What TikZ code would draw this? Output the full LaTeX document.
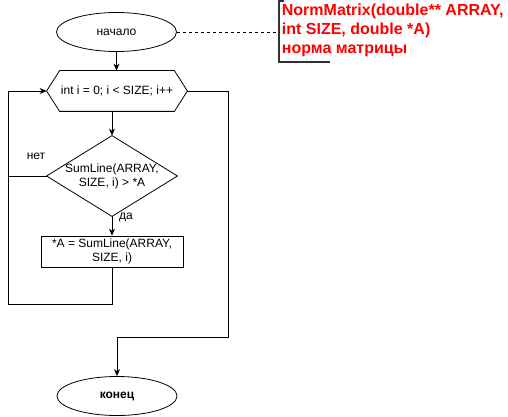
\documentclass[tikz,border=0pt]{standalone}
\usepackage{fontspec}
\setmainfont{Liberation Sans}
\usetikzlibrary{shapes.geometric,arrows.meta,calc}
\begin{document}
\begin{tikzpicture}[x=1pt,y=-1pt,
  line width=0.8pt,
  txt/.style={font=\fontsize{12}{14}\selectfont, align=center, inner sep=0pt},
  term/.style={ellipse, draw, minimum width=120pt, minimum height=39pt, txt},
  boxnode/.style={rectangle, draw, minimum width=142pt, minimum height=31pt, txt},
  plain/.style={rectangle, minimum width=#1, txt},
  flow/.style={-{Stealth[length=7pt,width=6pt]}},
  note/.style={text=red, font=\bfseries\fontsize{16}{19}\selectfont, align=left, inner sep=0pt, anchor=north west}
]
\useasboundingbox (0,0) rectangle (508,417);

\node[term] (start) at (116.5,32) {начало};

\node[plain=140pt, minimum height=40pt] (loop) at (117,91) {int i = 0; i < SIZE; i++};
\draw (loop.west) -- ($(loop.north west)+(13,0)$) -- ($(loop.north east)+(-13,0)$)
  -- (loop.east) -- ($(loop.south east)+(-13,0)$) -- ($(loop.south west)+(13,0)$) -- cycle;

\node[plain=130pt, minimum height=80pt] (cond) at (112,176) {SumLine(ARRAY,\\SIZE, i) > *A};
\draw (cond.north) -- (cond.east) -- (cond.south) -- (cond.west) -- cycle;

\node[boxnode] (assign) at (112,251.5) {*A = SumLine(ARRAY,\\SIZE, i)};

\node[term, font=\bfseries\fontsize{12}{14}\selectfont] (stop) at (117,396) {конец};

\node[txt] (no) at (36,156) {нет};
\node[txt] (yes) at (126,217) {да};

\coordinate (cl) at (8,91);
\coordinate (cb) at (8,304);
\coordinate (rr) at (228,91);
\coordinate (rb) at (228,337);
\coordinate (sb) at (117,337);

\draw[flow] (start.south) -- (start.south |- loop.north);
\draw[flow] (112,111) -- (cond.north);
\draw[flow] (cond.south) -- (assign.north);
\draw (cond.west) -- (cond.west -| cl);
\draw[flow] (assign.south) -- (assign.south |- cb) -- (cb) -- (cl) -- (loop.west);
\draw[flow] (loop.east) -- (rr) -- (rb) -- (sb) -- (stop.north);

\node[note] (ann) at (281.5,3.5) {NormMatrix(double** ARRAY,\\int SIZE, double *A)\\норма матрицы};
\coordinate (bt) at (279,1);
\coordinate (bb) at (279,62);
\draw[line width=1.5pt, black!80] ($(bt)+(5,0)$) -- (bt) -- (bb) -- ++(51,0);
\draw[dashed] (start.east) -- (start.east -| bt);
\end{tikzpicture}
\end{document}
